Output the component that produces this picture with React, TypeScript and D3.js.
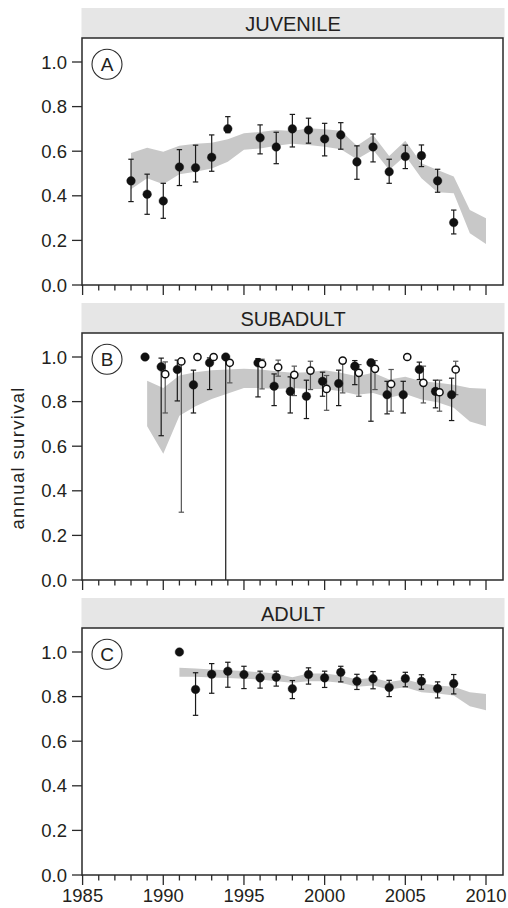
import React from "react";
import * as d3 from "d3";

// ---------- data ----------
const juvYears = [1988, 1989, 1990, 1991, 1992, 1993, 1994, 1996, 1997, 1998, 1999, 2000, 2001, 2002, 2003, 2004, 2005, 2006, 2007, 2008];
const juvEst = [0.467, 0.407, 0.377, 0.529, 0.526, 0.573, 0.701, 0.660, 0.619, 0.700, 0.695, 0.655, 0.673, 0.552, 0.619, 0.508, 0.576, 0.580, 0.467, 0.280];
const juvLo = [0.374, 0.317, 0.299, 0.446, 0.462, 0.510, 0.683, 0.588, 0.544, 0.619, 0.636, 0.579, 0.609, 0.474, 0.552, 0.456, 0.522, 0.531, 0.416, 0.229];
const juvHi = [0.564, 0.497, 0.456, 0.607, 0.627, 0.673, 0.755, 0.718, 0.685, 0.765, 0.748, 0.725, 0.728, 0.624, 0.677, 0.564, 0.627, 0.628, 0.519, 0.336];

const juvBandYears = d3.range(1988, 2011);
const juvBandUp = [0.592, 0.616, 0.598, 0.625, 0.633, 0.638, 0.654, 0.681, 0.686, 0.695, 0.691, 0.703, 0.698, 0.692, 0.625, 0.673, 0.579, 0.647, 0.546, 0.516, 0.486, 0.336, 0.299];
const juvBandLo = [0.429, 0.479, 0.452, 0.497, 0.508, 0.522, 0.553, 0.606, 0.612, 0.625, 0.633, 0.628, 0.620, 0.609, 0.564, 0.606, 0.516, 0.580, 0.479, 0.416, 0.411, 0.232, 0.184];

const subFilledYears = [1989, 1990, 1991, 1992, 1993, 1994, 1996, 1997, 1998, 1999, 2000, 2001, 2002, 2003, 2004, 2005, 2006, 2007, 2008];
const subFilledEst = [1.000, 0.956, 0.944, 0.875, 0.974, 1.000, 0.974, 0.869, 0.846, 0.824, 0.891, 0.881, 0.959, 0.974, 0.831, 0.831, 0.944, 0.846, 0.831];
const subFilledLo = [1.000, 0.647, 0.803, 0.749, 0.854, 0.000, 0.821, 0.782, 0.749, 0.724, 0.824, 0.782, 0.876, 0.712, 0.745, 0.749, 0.899, 0.772, 0.715];
const subFilledHi = [1.000, 0.995, 0.986, 0.941, 0.996, 1.000, 0.993, 0.924, 0.911, 0.896, 0.932, 0.941, 0.984, 0.989, 0.891, 0.891, 0.977, 0.896, 0.905];

const subOpenYears = [1990, 1991, 1992, 1993, 1994, 1996, 1997, 1998, 1999, 2000, 2001, 2002, 2003, 2004, 2005, 2006, 2007, 2008];
const subOpenEst = [0.923, 0.980, 1.000, 1.000, 0.974, 0.969, 0.954, 0.920, 0.939, 0.857, 0.984, 0.929, 0.947, 0.879, 1.000, 0.884, 0.842, 0.944];
const subOpenLo = [0.749, 0.304, 1.000, 1.000, 0.884, 0.857, 0.914, 0.827, 0.854, 0.761, 0.839, 0.824, 0.854, 0.757, 1.000, 0.794, 0.757, 0.831];
const subOpenHi = [0.978, 0.990, 1.000, 1.000, 0.984, 0.990, 0.986, 0.959, 0.981, 0.917, 0.984, 0.966, 0.984, 0.944, 1.000, 0.959, 0.896, 0.981];

const subBandYears = d3.range(1989, 2011);
const subBandUp = [0.894, 0.861, 0.917, 0.932, 0.941, 0.944, 0.947, 0.944, 0.936, 0.929, 0.932, 0.941, 0.929, 0.914, 0.929, 0.899, 0.911, 0.891, 0.884, 0.876, 0.861, 0.858];
const subBandLo = [0.689, 0.566, 0.737, 0.779, 0.812, 0.836, 0.861, 0.861, 0.857, 0.861, 0.857, 0.857, 0.846, 0.831, 0.839, 0.817, 0.834, 0.809, 0.797, 0.772, 0.711, 0.689];

const adYears = d3.range(1991, 2009);
const adEst = [1.000, 0.832, 0.900, 0.914, 0.899, 0.884, 0.887, 0.835, 0.899, 0.884, 0.909, 0.869, 0.880, 0.841, 0.881, 0.869, 0.836, 0.859];
const adLo = [1.000, 0.716, 0.815, 0.842, 0.836, 0.838, 0.847, 0.791, 0.856, 0.841, 0.866, 0.832, 0.835, 0.800, 0.844, 0.833, 0.794, 0.812];
const adHi = [1.000, 0.907, 0.948, 0.954, 0.936, 0.914, 0.914, 0.872, 0.929, 0.914, 0.936, 0.900, 0.912, 0.873, 0.909, 0.898, 0.866, 0.899];

const adBandYears = d3.range(1991, 2011);
const adBandUp = [0.929, 0.926, 0.921, 0.918, 0.915, 0.909, 0.904, 0.887, 0.904, 0.904, 0.895, 0.877, 0.884, 0.865, 0.877, 0.859, 0.850, 0.844, 0.820, 0.812];
const adBandLo = [0.889, 0.889, 0.886, 0.883, 0.880, 0.877, 0.869, 0.862, 0.869, 0.869, 0.862, 0.844, 0.850, 0.832, 0.842, 0.820, 0.814, 0.805, 0.757, 0.739];

const panelTitles = ["JUVENILE", "SUBADULT", "ADULT"];
const panelLetters = ["A", "B", "C"];
const yTicks = [0, 0.2, 0.4, 0.6, 0.8, 1.0];
const xMajorTicks = [1985, 1990, 1995, 2000, 2005, 2010];
const xMinorTicks = d3.range(1985, 2011);
const yAxisTitle = "annual survival";

// ---------- layout ----------
const W = 508;
const H = 908;
const FONT = "'Liberation Sans', Arial, Helvetica, sans-serif";
const TXT = "#231f20";
const FRAME = "#2a2a2a";
const BAND = "#c8c8c8";
const HEADER = "#e6e6e6";

const xLeft = 82;
const xRight = 503;
const x = d3.scaleLinear().domain([1985, 2010]).range([82.6, 486]);

type Series = { years: number[]; est: number[]; lo: number[]; hi: number[]; open: boolean; dx: number };
type PanelDef = {
  bandYears: number[];
  bandUp: number[];
  bandLo: number[];
  series: Series[];
};

const panels: PanelDef[] = [
  {
    bandYears: juvBandYears, bandUp: juvBandUp, bandLo: juvBandLo,
    series: [{ years: juvYears, est: juvEst, lo: juvLo, hi: juvHi, open: false, dx: 0 }],
  },
  {
    bandYears: subBandYears, bandUp: subBandUp, bandLo: subBandLo,
    series: [
      { years: subFilledYears, est: subFilledEst, lo: subFilledLo, hi: subFilledHi, open: false, dx: -0.13 },
      { years: subOpenYears, est: subOpenEst, lo: subOpenLo, hi: subOpenHi, open: true, dx: 0.12 },
    ],
  },
  {
    bandYears: adBandYears, bandUp: adBandUp, bandLo: adBandLo,
    series: [{ years: adYears, est: adEst, lo: adLo, hi: adHi, open: false, dx: 0 }],
  },
];

function Panel({ def, idx }: { def: PanelDef; idx: number }) {
  const top = 8 + 295 * idx;
  const frameTop = top + 30;
  const y = d3.scaleLinear().domain([0, 1]).range([frameTop + 247, frameTop + 24]);
  const y0 = y(0);

  const area = d3
    .area<number>()
    .x((_, i) => x(def.bandYears[i]))
    .y0((_, i) => y(def.bandLo[i]))
    .y1((_, i) => y(def.bandUp[i]));

  return (
    <g>
      {/* header strip */}
      <rect x={xLeft - 0.5} y={top} width={xRight - xLeft + 2} height={30} fill={HEADER} />
      <text
        x={(xLeft + xRight) / 2 + 0.5}
        y={top + 22.7}
        textAnchor="middle"
        fontSize={20}
        fontFamily={FONT}
        fill={TXT}
      >
        {panelTitles[idx]}
      </text>

      {/* band */}
      <path d={area(def.bandUp) || ""} fill={BAND} stroke="none" />

      {/* error bars */}
      {def.series.map((s, si) =>
        s.years.map((yr, i) => {
          const cx = x(yr + s.dx);
          const col = s.open ? "#555" : "#1a1a1a";
          if (s.hi[i] - s.lo[i] < 0.005) return null;
          return (
            <g key={`e${si}-${i}`} stroke={col} strokeWidth={1.2}>
              <line x1={cx} x2={cx} y1={y(s.hi[i])} y2={y(s.lo[i])} />
              <line x1={cx - 2.7} x2={cx + 2.7} y1={y(s.hi[i])} y2={y(s.hi[i])} />
              {s.lo[i] > 0.001 && (
                <line x1={cx - 2.7} x2={cx + 2.7} y1={y(s.lo[i])} y2={y(s.lo[i])} />
              )}
            </g>
          );
        })
      )}

      {/* points */}
      {def.series.map((s, si) =>
        s.years.map((yr, i) => (
          <circle
            key={`p${si}-${i}`}
            cx={x(yr + s.dx)}
            cy={y(s.est[i])}
            r={s.open ? 3.6 : 4.3}
            fill={s.open ? "#fff" : "#111"}
            stroke="#111"
            strokeWidth={s.open ? 1.5 : 0.4}
          />
        ))
      )}

      {/* frame */}
      <rect x={xLeft} y={frameTop} width={xRight - xLeft} height={y0 - frameTop} fill="none" stroke={FRAME} strokeWidth={1.5} />

      {/* y ticks */}
      {yTicks.map((t) => (
        <g key={`yt${t}`}>
          <line x1={xLeft - 10} x2={xLeft} y1={y(t)} y2={y(t)} stroke={FRAME} strokeWidth={1.3} />
          <text
            x={67}
            y={y(t) + 6.5}
            textAnchor="end"
            fontSize={18.5}
            fontFamily={FONT}
            fill={TXT}
          >
            {d3.format(".1f")(t)}
          </text>
        </g>
      ))}

      {/* x ticks */}
      {xMinorTicks.map((t) => {
        const major = xMajorTicks.includes(t);
        return (
          <line
            key={`xt${t}`}
            x1={x(t)}
            x2={x(t)}
            y1={y0}
            y2={y0 + (major ? 10 : 5.5)}
            stroke={FRAME}
            strokeWidth={1.3}
          />
        );
      })}
      {idx === 2 &&
        xMajorTicks.map((t) => (
          <text
            key={`xl${t}`}
            x={x(t)}
            y={901.5}
            textAnchor="middle"
            fontSize={18.5}
            fontFamily={FONT}
            fill={TXT}
          >
            {t}
          </text>
        ))}

      {/* panel letter */}
      <circle cx={107} cy={frameTop + 26.3} r={15} fill="#fff" stroke={FRAME} strokeWidth={1.1} />
      <text
        x={107}
        y={frameTop + 26.3 + 6.8}
        textAnchor="middle"
        fontSize={19}
        fontFamily={FONT}
        fill={TXT}
      >
        {panelLetters[idx]}
      </text>
    </g>
  );
}

export default function App() {
  return (
    <svg
      width={W}
      height={H}
      viewBox={`0 0 ${W} ${H}`}
      style={{ position: "absolute", left: 0, top: 0, background: "#fff" }}
    >
      <rect x={0} y={0} width={W} height={H} fill="#fff" />
      {panels.map((p, i) => (
        <Panel key={i} def={p} idx={i} />
      ))}
      <text
        transform={`translate(24,458.5) rotate(-90)`}
        textAnchor="middle"
        fontSize={18.5}
        fontFamily={FONT}
        fill={TXT}
        textLength={142}
        lengthAdjust="spacing"
      >
        {yAxisTitle}
      </text>
    </svg>
  );
}
